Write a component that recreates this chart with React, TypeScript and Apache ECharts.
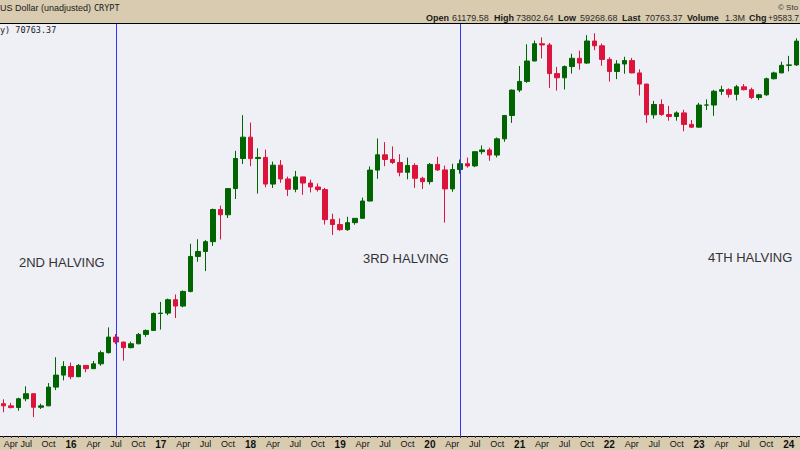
import React, { useEffect, useRef } from 'react';
import * as echarts from 'echarts';

const startYear = 2015;
const startMonth = 4;
const monthNames = ['Jan', 'Feb', 'Mar', 'Apr', 'May', 'Jun', 'Jul', 'Aug', 'Sep', 'Oct', 'Nov', 'Dec'];

const opens = [
  244, 236, 230, 263, 284, 231, 236, 314, 377,
  430, 368, 437, 416, 448, 531, 673, 624, 573, 608, 701, 745,
  964, 970, 1190, 1080, 1350, 2300, 2480, 2880, 4700, 4340, 6470, 10230,
  14160, 10220, 10400, 6930, 9240, 7490, 6400, 7730, 7040, 6630, 6370, 4030,
  3740, 3460, 3850, 4110, 5350, 8570, 10820, 10080, 9630, 8290, 9200, 7570,
  7190, 9350, 8600, 6440, 8650, 9450, 9140, 11350, 11660, 10780, 13800, 19700,
  29000, 33100, 45200, 58800, 57700, 37300, 35000, 41500, 47100, 43800, 61300, 57000,
  46300, 38500, 43200, 45500, 37700, 31800, 19900, 23300, 20000, 19400, 20500, 17200,
  16500, 23100, 23100, 28500, 29200, 27200, 30500, 29200, 25900, 27000, 34500, 37700,
  42300, 42600,
];
const highs = [
  261, 247, 267, 318, 285, 244, 334, 495, 466,
  456, 446, 439, 468, 548, 780, 705, 626, 628, 716, 756, 979,
  1150, 1210, 1290, 1370, 2790, 2990, 2950, 4770, 4990, 6470, 11500, 19800,
  17700, 11950, 11700, 9760, 9990, 7760, 8470, 7740, 7410, 7000, 6540, 4410,
  4110, 4210, 4110, 5640, 9070, 13880, 13130, 12300, 10910, 10370, 9510, 7740,
  9550, 10500, 9180, 9440, 10070, 10380, 11420, 12480, 12060, 14100, 19860, 29300,
  41900, 58300, 61700, 64800, 59500, 41300, 42200, 50500, 52900, 67000, 69000, 59000,
  47900, 45800, 48200, 47400, 39800, 31900, 24600, 25200, 22800, 21000, 21500, 18400,
  23900, 25200, 29100, 31000, 29800, 31400, 31800, 30100, 27400, 35100, 38400, 44700,
  48900, 63900,
];
const lows = [
  214, 227, 219, 253, 199, 225, 235, 300, 348,
  354, 366, 394, 414, 435, 524, 604, 470, 567, 603, 675, 742,
  755, 940, 900, 1060, 1330, 2120, 1840, 2700, 2980, 4130, 5520, 9400,
  9100, 6000, 6600, 6530, 7060, 5780, 6120, 5880, 6100, 6180, 3740, 3190,
  3400, 3400, 3730, 4100, 5330, 7510, 9100, 9400, 7800, 7450, 6540, 6430,
  6890, 8470, 3850, 6160, 8120, 8900, 8970, 10900, 9880, 10400, 13200, 17600,
  28100, 32400, 45000, 47000, 30000, 28800, 29300, 37300, 39600, 43300, 53300, 42000,
  33000, 34300, 37200, 37500, 26700, 17600, 18800, 19600, 18200, 18200, 15500, 16300,
  16400, 21400, 19600, 26900, 25900, 24800, 28900, 25300, 24900, 26600, 34100, 37600,
  38600, 41900,
];
const closes = [
  236, 230, 263, 284, 231, 236, 314, 377, 430,
  368, 437, 416, 448, 531, 673, 624, 573, 608, 701, 745, 964,
  970, 1190, 1080, 1350, 2300, 2480, 2880, 4700, 4340, 6470, 10230, 14160,
  10220, 10400, 6930, 9240, 7490, 6400, 7730, 7040, 6630, 6370, 4030, 3740,
  3460, 3850, 4110, 5350, 8570, 10820, 10080, 9630, 8290, 9200, 7570, 7190,
  9350, 8600, 6440, 8650, 9450, 9140, 11350, 11660, 10780, 13800, 19700, 29000,
  33100, 45200, 58800, 57700, 37300, 35000, 41500, 47100, 43800, 61300, 57000, 46300,
  38500, 43200, 45500, 37700, 31800, 19900, 23300, 20000, 19400, 20500, 17200, 16500,
  23100, 23100, 28500, 29200, 27200, 30500, 29200, 25900, 27000, 34500, 37700, 42300,
  42600, 61200,
];

const halvingMonths = ['2016-07', '2020-05'];
const halvingTexts = ['2ND HALVING', '3RD HALVING', '4TH HALVING'];
const headerLabels = ['Open', 'High', 'Low', 'Last', 'Volume', 'Chg'];
const headerValues = ['61179.58', '73802.64', '59268.68', '70763.37', '1.3M', '+9583.7'];

const yMin = 149.1;
const yMax = 80650;

const months = opens.map((_, i) => {
  const m = startMonth - 1 + i;
  const y = startYear + Math.floor(m / 12);
  const mm = (m % 12) + 1;
  return `${y}-${String(mm).padStart(2, '0')}`;
});

export default function App() {
  const ref = useRef<HTMLDivElement>(null);
  useEffect(() => {
    if (!ref.current) return;
    const chart = echarts.init(ref.current, undefined, { renderer: 'svg' });
    const data = opens.map((o, i) => [o, closes[i], lows[i], highs[i]]);

    const labelX = [426, 494, 558, 622, 687, 749];
    const valueX = [452, 516, 580, 645, 725, 768];
    const headerTexts: any[] = [];
    headerLabels.forEach((l, i) => {
      headerTexts.push({
        type: 'text', x: labelX[i], y: 17.5, z: 100,
        style: { text: l, fill: '#1a1a1a', font: 'bold 9px "Liberation Sans", Arial, sans-serif', textVerticalAlign: 'middle' },
      });
      headerTexts.push({
        type: 'text', x: valueX[i], y: 17.5, z: 100,
        style: { text: headerValues[i], fill: '#2a2a2a', font: (i === 5 ? '8.5px' : '9px') + ' "Liberation Sans", Arial, sans-serif', textVerticalAlign: 'middle' },
      });
    });

    const halvingPos = [[19, 262], [363, 258], [708, 257]];

    chart.setOption({
      animation: false,
      backgroundColor: '#D8CBB0',
      grid: {
        left: 0, right: 0, top: 23, bottom: 14,
        outerBoundsMode: 'none',
        containLabel: false,
        show: true, backgroundColor: '#EFEFF6', borderWidth: 0,
      },
      xAxis: {
        type: 'category',
        data: months,
        boundaryGap: true,
        axisLine: { show: true, lineStyle: { color: '#000', width: 1 } },
        axisTick: { show: true, interval: 0, alignWithLabel: true, length: 2, lineStyle: { color: '#444' } },
        splitLine: { show: false },
        axisLabel: {
          interval: (idx: number, val: string) => {
            const mm = parseInt(val.slice(5), 10);
            return mm === 1 || mm === 4 || mm === 7 || mm === 10;
          },
          margin: 3,
          hideOverlap: false,
          alignMinLabel: 'left',
          formatter: (val: string) => {
            const mm = parseInt(val.slice(5), 10);
            if (mm === 1) return '{y|' + val.slice(2, 4) + '}';
            return '{m|' + monthNames[mm - 1] + '}';
          },
          rich: {
            y: { fontWeight: 'bold', fontSize: 10, color: '#111', fontFamily: '"Liberation Sans", Arial, sans-serif' },
            m: { fontSize: 9, color: '#111', fontFamily: '"Liberation Sans", Arial, sans-serif' },
          },
        },
      },
      yAxis: {
        type: 'log',
        logBase: 10,
        min: yMin,
        max: yMax,
        show: false,
        splitLine: { show: false },
      },
      series: [
        {
          type: 'candlestick',
          data,
          barWidth: 5,
          itemStyle: {
            color: '#006400',
            color0: '#DC143C',
            borderColor: '#006400',
            borderColor0: '#DC143C',
            borderWidth: 1,
          },
          markLine: {
            silent: true,
            symbol: ['none', 'none'],
            label: { show: false },
            lineStyle: { color: '#3333FF', width: 1, type: 'solid' },
            data: halvingMonths.map((m) => ({ xAxis: m })),
          },
        },
      ],
      graphic: [
        { type: 'line', z: 100, shape: { x1: 0, y1: 23.5, x2: 800, y2: 23.5 }, style: { stroke: '#000', lineWidth: 1 } },
        {
          type: 'text', x: 0, y: 7.5, z: 100,
          style: { text: 'US Dollar (unadjusted)', fill: '#1a1a1a', font: '9px "Liberation Sans", Arial, sans-serif', textVerticalAlign: 'middle' },
        },
        {
          type: 'text', x: 94, y: 7.5, z: 100,
          style: { text: 'CRYPT', fill: '#1a1a1a', font: '8.5px "DejaVu Sans Mono", monospace', textVerticalAlign: 'middle' },
        },
        {
          type: 'text', x: 778, y: 7.5, z: 100,
          style: { text: '© Sto', fill: '#333', font: '8px "Liberation Sans", Arial, sans-serif', textVerticalAlign: 'middle' },
        },
        ...headerTexts,
        {
          type: 'text', x: 0, y: 30, z: 100,
          style: { text: 'y) 70763.37', fill: '#222', font: '8.5px "DejaVu Sans Mono", monospace', textVerticalAlign: 'middle' },
        },
        ...halvingTexts.map((t, i) => ({
          type: 'text', x: halvingPos[i][0], y: halvingPos[i][1], z: 100,
          style: { text: t, fill: '#333', font: '13px "Liberation Sans", Arial, sans-serif', textVerticalAlign: 'middle' },
        })),
      ],
    });
    return () => chart.dispose();
  }, []);
  return <div ref={ref} style={{ position: 'fixed', left: 0, top: 0, width: 800, height: 450 }} />;
}
